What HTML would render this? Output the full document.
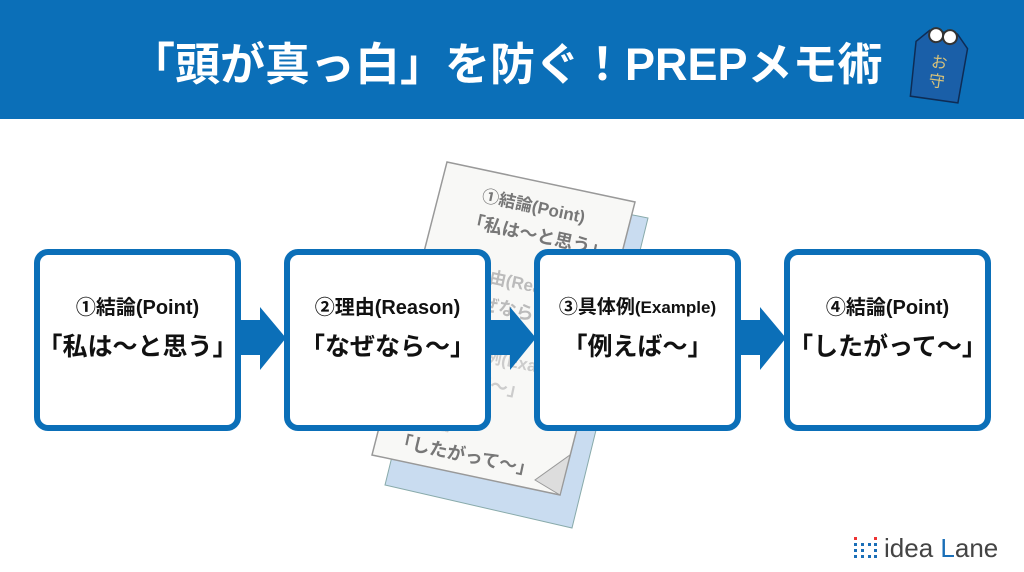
<!DOCTYPE html>
<html><head><meta charset="utf-8"><style>
body{margin:0;width:1024px;height:572px;overflow:hidden;background:#fff;position:relative;font-family:"Liberation Sans","Noto Sans CJK JP",sans-serif}
.hdr{position:absolute;left:0;top:0;width:1024px;height:119px;background:#0b6fb8}
.title{position:absolute;left:130px;top:35px;font-size:45px;font-weight:bold;color:#fff;white-space:nowrap;line-height:60px}
.box{position:absolute;top:249px;width:195px;height:170px;border:6px solid #0b6fb8;border-radius:14px;background:#fff;text-align:center;font-weight:bold;color:#111}
.l1{position:absolute;left:0;right:0;top:40px;font-size:20px;line-height:26px}
.l2{position:absolute;left:-10px;right:-10px;top:74px;font-size:25px;line-height:36px}
</style></head><body>
<div class="hdr"></div>
<div class="title">「頭が真っ白」を防ぐ！PREPメモ術</div>
<svg style="position:absolute;left:905px;top:20px" width="70" height="85" viewBox="0 0 70 85">
<g transform="rotate(8 35 45)">
<path d="M20 12 L48 12 L60 25 L58 80 L10 80 L8 25 Z" fill="#1a5fa8" stroke="#0e2c55" stroke-width="1.5"/>
<circle cx="27" cy="16" r="7" fill="#fff" stroke="#333" stroke-width="2"/><circle cx="41" cy="16" r="7" fill="#fff" stroke="#333" stroke-width="2"/>
<text x="34" y="48" font-size="16" fill="#d8c27a" text-anchor="middle" font-family="Noto Sans CJK JP">お</text>
<text x="34" y="67" font-size="16" fill="#d8c27a" text-anchor="middle" font-family="Noto Sans CJK JP">守</text>
</g></svg>
<svg style="position:absolute;left:360px;top:150px" width="300" height="380" viewBox="0 0 300 380">
<polygon points="100,30 288,68 212,378 25,335" fill="#c9dcf0" stroke="#8aa" stroke-width="1"/>
<polygon points="87,12 275,52 200,345 12,305" fill="#f8f8f6" stroke="#999" stroke-width="1.5"/>
<polygon points="175,330 200,345 210,305" fill="#ddd" stroke="#999"/>
<g transform="rotate(12 150 180)" font-family="Liberation Sans, Noto Sans CJK JP, sans-serif" font-weight="bold" fill="#777">
<text x="95" y="60" font-size="17">①結論(Point)</text>
<text x="85" y="88" font-size="18">「私は〜と思う」</text>
<text x="85" y="138" font-size="17" fill="#bbb">②理由(Reason)</text>
<text x="80" y="166" font-size="18" fill="#bbb">「なぜなら〜」</text>
<text x="80" y="216" font-size="17" fill="#ccc">③具体例(Example)</text>
<text x="70" y="244" font-size="18" fill="#ccc">「例えば〜」</text>
<text x="70" y="292" font-size="14" fill="#ccc">④結論</text>
<text x="60" y="318" font-size="18">「したがって〜」</text>
</g></svg>
<svg style="position:absolute;left:0;top:0" width="1024" height="572">
<g fill="#0b6fb8">
<polygon points="238,320 260,320 260,307 286,338 260,370 260,355 238,355"/>
<polygon points="488,320 510,320 510,307 536,338 510,370 510,355 488,355"/>
<polygon points="738,320 760,320 760,307 786,338 760,370 760,355 738,355"/>
</g></svg>
<div class="box" style="left:34px"><div class="l1">①結論(Point)</div><div class="l2">「私は〜と思う」</div></div>
<div class="box" style="left:284px"><div class="l1">②理由(Reason)</div><div class="l2">「なぜなら〜」</div></div>
<div class="box" style="left:534px"><div class="l1" style="font-size:19px">③具体例<span style="font-size:17px">(Example)</span></div><div class="l2">「例えば〜」</div></div>
<div class="box" style="left:784px"><div class="l1">④結論(Point)</div><div class="l2">「したがって〜」</div></div>
<svg style="position:absolute;left:852px;top:535px" width="30" height="26">
<g fill="#1a6fb8"><rect x="2" y="8" width="3" height="3"/><rect x="2" y="14" width="3" height="3"/><rect x="2" y="20" width="3" height="3"/>
<rect x="9" y="8" width="3" height="3"/><rect x="9" y="14" width="3" height="3"/><rect x="9" y="20" width="3" height="3"/>
<rect x="16" y="8" width="3" height="3"/><rect x="16" y="20" width="3" height="3"/><rect x="22" y="8" width="3" height="3"/><rect x="22" y="14" width="3" height="3"/><rect x="22" y="20" width="3" height="3"/></g>
<rect x="2" y="2" width="3" height="3" fill="#e33"/><rect x="22" y="2" width="3" height="3" fill="#e33"/></svg>
<div style="position:absolute;left:884px;top:531px;font-size:26px;color:#444;line-height:34px;white-space:nowrap">idea <span style="color:#1a6fb8">L</span>ane</div>
</body></html>
